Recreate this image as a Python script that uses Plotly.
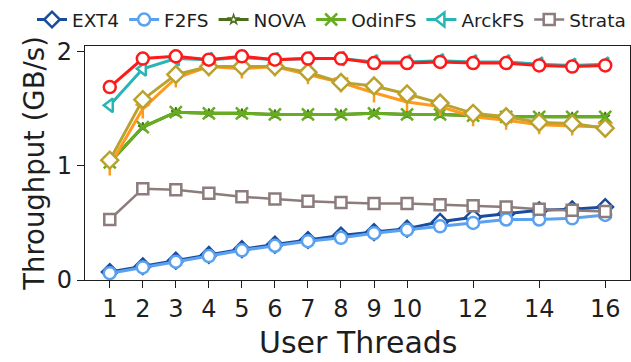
import plotly.graph_objects as go

threads = list(range(1, 17))
tick_vals = [1, 2, 3, 4, 5, 6, 7, 8, 9, 10, 12, 14, 16]
tick_text = [str(v) for v in tick_vals]

ext4 = [0.07, 0.12, 0.17, 0.22, 0.27, 0.31, 0.35, 0.39, 0.42, 0.45, 0.51, 0.55, 0.58, 0.61, 0.62, 0.64]
f2fs = [0.06, 0.11, 0.16, 0.21, 0.26, 0.30, 0.34, 0.37, 0.41, 0.44, 0.47, 0.50, 0.53, 0.53, 0.54, 0.57]
nova = [1.03, 1.34, 1.47, 1.46, 1.46, 1.45, 1.45, 1.45, 1.46, 1.45, 1.45, 1.44, 1.43, 1.43, 1.43, 1.43]
odinfs = [1.03, 1.34, 1.47, 1.46, 1.46, 1.45, 1.45, 1.45, 1.46, 1.45, 1.45, 1.44, 1.43, 1.43, 1.43, 1.43]
arckfs = [1.53, 1.85, 1.94, 1.93, 1.95, 1.93, 1.94, 1.94, 1.91, 1.91, 1.92, 1.91, 1.91, 1.89, 1.88, 1.89]
strata = [0.53, 0.80, 0.79, 0.76, 0.73, 0.71, 0.69, 0.68, 0.67, 0.67, 0.66, 0.65, 0.64, 0.62, 0.61, 0.60]
red_series = [1.69, 1.94, 1.96, 1.93, 1.96, 1.93, 1.94, 1.94, 1.90, 1.90, 1.91, 1.90, 1.90, 1.88, 1.87, 1.88]
orange_series = [1.00, 1.50, 1.77, 1.87, 1.85, 1.87, 1.80, 1.73, 1.64, 1.56, 1.52, 1.43, 1.40, 1.36, 1.35, 1.34]
olive_series = [1.05, 1.58, 1.80, 1.87, 1.87, 1.87, 1.82, 1.73, 1.70, 1.63, 1.55, 1.46, 1.43, 1.38, 1.37, 1.33]

FONT = "DejaVu Sans"
INK = "#1e1e1e"

fig = go.Figure()

def add(name, y, color, symbol, lw=3, size=11, legend=True, open_sym=False, mlw=2.5):
    marker = dict(symbol=symbol, size=size, line=dict(color=color, width=mlw))
    marker["color"] = color if open_sym else "white"
    fig.add_trace(go.Scatter(
        x=threads, y=y, name=name, mode="lines+markers",
        line=dict(color=color, width=lw), marker=marker,
        showlegend=legend, cliponaxis=False))

add("EXT4", ext4, "#1a4c9e", "diamond", size=12)
add("F2FS", f2fs, "#5aa2f0", "circle", size=12)
add("NOVA", nova, "#4a6e1e", "star", size=7, mlw=1.5)
add("OdinFS", odinfs, "#66ad1f", "x-thin-open", size=12, open_sym=True, mlw=2.5)
add("ArckFS", arckfs, "#27b5b5", "triangle-left", size=12)
add("Strata", strata, "#8c7c7c", "square", lw=2.5, size=11)
add("orange", orange_series, "#ff9a1f", "y-down-open", size=12, legend=False, open_sym=True, mlw=2.5)
add("olive", olive_series, "#b9a22e", "diamond", size=13, legend=False)
add("red", red_series, "#ff1a1a", "circle", size=12, legend=False)

fig.update_layout(
    width=631, height=362,
    margin=dict(l=85, r=1, t=40, b=82),
    paper_bgcolor="white", plot_bgcolor="white",
    font=dict(family=FONT, color=INK),
    legend=dict(
        orientation="h", x=-0.085, xanchor="left", y=1.03, yanchor="bottom",
        font=dict(family=FONT, size=18.5, color=INK),
        itemwidth=30, tracegroupgap=0, bgcolor="rgba(0,0,0,0)", borderwidth=0,
    ),
    annotations=[dict(
        text="User Threads", xref="paper", yref="paper", x=0.5, y=-0.268,
        xanchor="center", yanchor="middle", showarrow=False,
        font=dict(family=FONT, size=30, color=INK),
    )],
)

fig.update_xaxes(
    range=[0.25, 16.75], tickmode="array", tickvals=tick_vals, ticktext=tick_text,
    ticks="outside", ticklen=7, tickwidth=1.2, tickcolor=INK,
    showline=True, linecolor=INK, linewidth=1.2, mirror=True,
    showgrid=False, zeroline=False,
    tickfont=dict(family=FONT, size=24, color=INK),
)
fig.update_yaxes(
    range=[0, 2.05], tickvals=[0, 1, 2],
    ticks="outside", ticklen=7, tickwidth=1.2, tickcolor=INK,
    showline=True, linecolor=INK, linewidth=1.2, mirror=True,
    showgrid=False, zeroline=False,
    tickfont=dict(family=FONT, size=24, color=INK),
    title=dict(text="Throughput (GB/s)", font=dict(family=FONT, size=27.5, color=INK), standoff=4),
)

fig.write_html("out.html")
